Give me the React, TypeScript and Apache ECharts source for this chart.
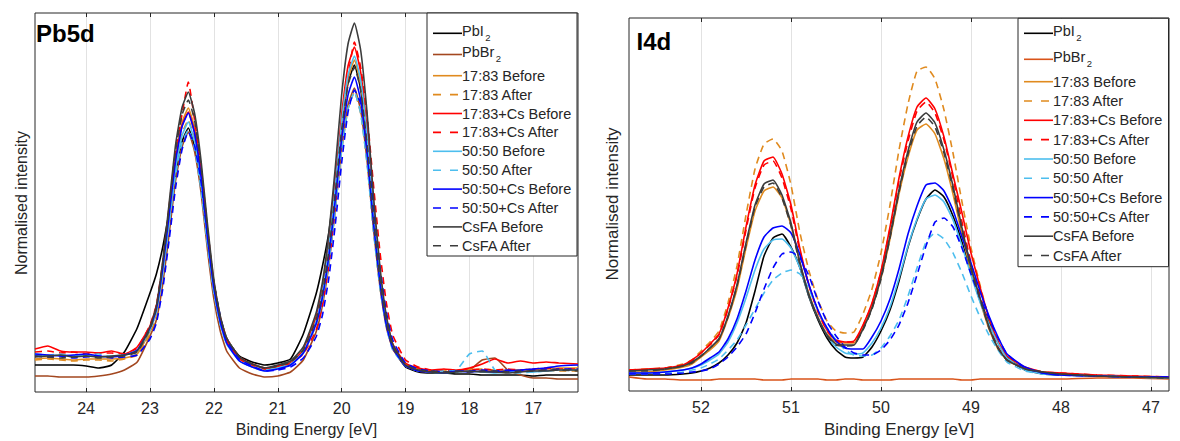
import React, { useEffect, useRef } from "react";
import * as echarts from "echarts";

// ---------- Pb5d panel ----------
const pbEnergy = [24.8, 24.6, 24.4, 24.2, 24.0, 23.8, 23.6, 23.4, 23.2, 23.0, 22.9, 22.8, 22.7, 22.6, 22.5, 22.4, 22.3, 22.2, 22.1, 22.0, 21.9, 21.8, 21.6, 21.4, 21.2, 21.0, 20.8, 20.6, 20.4, 20.3, 20.2, 20.1, 20.0, 19.9, 19.8, 19.7, 19.6, 19.5, 19.4, 19.3, 19.2, 19.0, 18.8, 18.6, 18.4, 18.2, 18.0, 17.8, 17.6, 17.4, 17.2, 17.0, 16.8, 16.6, 16.3];
const pbTicks = [24, 23, 22, 21, 20, 19, 18, 17];

const pbPbI2 = [27, 27, 27, 27, 26, 24, 27, 40, 64, 99, 118, 145, 180, 218, 250, 264, 245, 205, 150, 102, 71, 52, 36, 30, 27, 29, 33, 58, 98, 126, 160, 210, 265, 309, 327, 302, 247, 173, 111, 68, 44, 25, 20, 19, 19, 18, 18, 17, 17, 17, 17, 16, 17, 17, 17];
const pbPbBr2 = [16, 16, 15, 15, 15, 16, 18, 22, 30, 56, 72, 108, 158, 211, 245, 260, 240, 199, 142, 93, 61, 41, 24, 18, 15, 16, 20, 32, 60, 87, 127, 182, 243, 287, 304, 281, 230, 162, 105, 65, 43, 26, 21, 20, 20, 21, 22, 32, 34, 22, 17, 14, 14, 13, 13];
const pb1783Before = [33, 34, 33, 32, 33, 33, 33, 34, 38, 61, 81, 123, 179, 234, 269, 284, 263, 219, 158, 106, 72, 51, 33, 26, 23, 25, 28, 41, 72, 100, 143, 202, 267, 313, 332, 307, 251, 177, 114, 71, 46, 27, 22, 21, 20, 21, 23, 22, 21, 22, 22, 22, 23, 24, 24];
const pb1783After = [32, 33, 32, 31, 32, 32, 31, 33, 37, 58, 78, 118, 171, 224, 258, 272, 252, 210, 152, 102, 70, 50, 32, 26, 22, 24, 28, 39, 67, 92, 130, 183, 242, 283, 300, 278, 228, 161, 105, 67, 44, 28, 23, 21, 22, 21, 22, 23, 22, 21, 22, 23, 22, 21, 21];
const pb1783CsBefore = [43, 46, 41, 40, 40, 39, 41, 38, 45, 66, 86, 126, 179, 232, 266, 280, 259, 216, 157, 105, 72, 51, 33, 27, 23, 26, 29, 42, 75, 104, 149, 210, 277, 326, 345, 319, 261, 184, 119, 74, 48, 29, 24, 22, 23, 22, 24, 28, 33, 29, 31, 29, 30, 29, 28];
const pb1783CsAfter = [40, 41, 39, 40, 38, 39, 39, 38, 44, 67, 87, 130, 186, 241, 277, 310, 271, 225, 163, 110, 75, 54, 35, 28, 24, 26, 29, 38, 62, 87, 128, 188, 258, 315, 350, 324, 276, 206, 140, 89, 57, 32, 25, 22, 21, 22, 22, 23, 22, 23, 22, 23, 24, 23, 23];
const pb5050Before = [37, 36, 37, 36, 37, 35, 36, 37, 41, 62, 81, 120, 172, 223, 256, 270, 250, 208, 151, 101, 68, 48, 31, 25, 21, 24, 27, 40, 71, 100, 144, 204, 270, 317, 336, 311, 254, 178, 115, 71, 45, 26, 22, 20, 19, 20, 21, 20, 19, 20, 21, 20, 21, 22, 22];
const pb5050After = [38, 37, 38, 36, 37, 38, 35, 37, 42, 62, 80, 118, 168, 217, 249, 262, 243, 202, 147, 99, 68, 48, 32, 26, 22, 24, 28, 39, 67, 92, 130, 183, 242, 283, 300, 278, 227, 160, 104, 65, 42, 26, 21, 20, 21, 22, 38, 41, 22, 20, 19, 20, 21, 22, 22];
const pb5050CsBefore = [38, 37, 36, 37, 38, 36, 35, 37, 42, 64, 83, 124, 177, 231, 265, 279, 258, 215, 155, 104, 70, 49, 31, 25, 21, 23, 27, 39, 68, 95, 136, 192, 253, 297, 315, 291, 238, 168, 109, 67, 44, 26, 21, 20, 19, 21, 20, 21, 20, 21, 22, 23, 24, 26, 27];
const pb5050CsAfter = [36, 35, 36, 34, 35, 36, 34, 35, 37, 53, 69, 103, 152, 204, 242, 260, 246, 210, 157, 109, 76, 52, 33, 26, 21, 22, 25, 34, 55, 77, 114, 167, 229, 280, 302, 288, 246, 184, 125, 80, 52, 29, 23, 21, 20, 21, 21, 22, 21, 22, 21, 22, 22, 23, 23];
const pbCsFABefore = [35, 36, 37, 35, 36, 35, 36, 37, 41, 65, 86, 131, 189, 247, 284, 300, 278, 231, 168, 112, 76, 54, 35, 28, 24, 27, 31, 45, 79, 110, 159, 224, 297, 348, 369, 341, 278, 195, 125, 76, 48, 27, 22, 20, 19, 20, 21, 20, 20, 19, 20, 21, 21, 22, 22];
const pbCsFAAfter = [36, 35, 34, 35, 36, 34, 35, 36, 40, 63, 84, 128, 184, 241, 277, 292, 271, 225, 163, 110, 75, 54, 35, 28, 24, 26, 30, 42, 72, 99, 141, 199, 262, 307, 325, 301, 246, 173, 112, 70, 45, 27, 22, 21, 20, 21, 20, 21, 21, 20, 21, 21, 22, 22, 21];

// ---------- I4d panel ----------
const iEnergy = [52.8, 52.6, 52.4, 52.2, 52.1, 52.0, 51.9, 51.8, 51.7, 51.6, 51.5, 51.4, 51.3, 51.2, 51.1, 51.0, 50.9, 50.8, 50.7, 50.6, 50.5, 50.4, 50.3, 50.2, 50.1, 50.0, 49.9, 49.8, 49.7, 49.6, 49.5, 49.4, 49.3, 49.2, 49.1, 49.0, 48.9, 48.8, 48.7, 48.6, 48.4, 48.2, 48.0, 47.6, 47.2, 46.8];
const iTicks = [52, 51, 50, 49, 48, 47];

const iPbI2 = [16, 16, 16, 17, 18, 20, 23, 28, 36, 48, 68, 100, 135, 153, 157, 144, 123, 94, 71, 53, 41, 34, 33, 34, 44, 60, 81, 110, 144, 171, 192, 201, 194, 175, 149, 119, 91, 69, 48, 34, 21, 17, 16, 15, 14, 13];
const iPbBr2 = [14, 12, 12, 11, 11, 11, 11, 12, 12, 12, 12, 12, 11, 11, 11, 12, 12, 12, 12, 11, 11, 12, 12, 11, 11, 11, 11, 12, 12, 12, 12, 12, 12, 12, 11, 11, 12, 12, 12, 12, 12, 12, 12, 13, 13, 12];
const i1783Before = [19, 19, 21, 24, 27, 34, 41, 50, 73, 102, 143, 180, 200, 204, 193, 166, 128, 97, 74, 57, 49, 48, 48, 63, 84, 113, 152, 197, 234, 261, 267, 257, 232, 197, 157, 120, 90, 62, 42, 31, 22, 19, 17, 15, 14, 13];
const i1783After = [21, 22, 23, 27, 31, 40, 49, 60, 88, 125, 176, 222, 247, 252, 240, 206, 158, 120, 91, 70, 60, 58, 59, 77, 102, 138, 186, 241, 287, 320, 324, 312, 281, 238, 189, 143, 106, 72, 48, 34, 23, 19, 17, 15, 14, 13];
const i1783CsBefore = [21, 22, 23, 26, 31, 38, 47, 57, 83, 117, 164, 206, 230, 234, 217, 186, 142, 106, 80, 61, 51, 49, 50, 66, 88, 120, 164, 213, 254, 284, 293, 282, 254, 216, 178, 138, 104, 73, 50, 35, 24, 19, 18, 16, 15, 14];
const i1783CsAfter = [21, 21, 23, 26, 30, 38, 46, 56, 82, 115, 161, 203, 226, 230, 213, 182, 139, 105, 79, 60, 50, 49, 49, 65, 87, 119, 162, 210, 250, 280, 289, 278, 251, 213, 169, 128, 96, 66, 44, 32, 22, 19, 18, 16, 15, 14];
const i5050Before = [18, 18, 19, 21, 23, 26, 31, 37, 49, 68, 93, 121, 142, 151, 152, 143, 123, 95, 73, 56, 44, 38, 37, 38, 48, 63, 84, 113, 145, 172, 192, 196, 189, 171, 145, 116, 89, 67, 48, 33, 21, 17, 16, 15, 14, 13];
const i5050After = [17, 17, 18, 19, 21, 23, 27, 32, 41, 51, 66, 82, 98, 111, 118, 121, 117, 102, 80, 63, 51, 41, 36, 35, 36, 43, 55, 71, 95, 123, 149, 158, 152, 138, 118, 95, 74, 56, 41, 29, 20, 17, 16, 15, 14, 13];
const i5050CsBefore = [18, 18, 19, 21, 23, 27, 33, 39, 52, 72, 100, 131, 154, 163, 165, 158, 136, 106, 81, 63, 50, 43, 42, 42, 54, 70, 92, 122, 157, 185, 206, 208, 200, 181, 154, 128, 100, 75, 54, 37, 24, 18, 16, 15, 14, 14];
const i5050CsAfter = [17, 17, 17, 18, 19, 20, 22, 27, 34, 44, 57, 78, 102, 123, 137, 139, 133, 115, 90, 69, 55, 44, 38, 36, 36, 41, 51, 66, 88, 116, 145, 169, 173, 164, 143, 117, 93, 73, 53, 37, 23, 18, 16, 15, 14, 14];
const iCsFABefore = [20, 21, 22, 25, 29, 35, 43, 52, 75, 106, 148, 186, 207, 211, 196, 168, 128, 96, 73, 56, 47, 46, 46, 62, 83, 114, 155, 201, 240, 269, 278, 268, 241, 205, 163, 124, 93, 64, 43, 31, 22, 19, 17, 15, 14, 13];
const iCsFAAfter = [20, 20, 22, 25, 28, 35, 43, 52, 74, 105, 146, 184, 204, 208, 193, 165, 126, 95, 72, 55, 46, 45, 46, 61, 82, 112, 153, 199, 237, 265, 274, 264, 238, 202, 161, 122, 92, 63, 43, 31, 22, 19, 17, 15, 14, 13];

// ---------- series descriptors ----------
const seriesNames = ["PbI2", "PbBr2", "17:83 Before", "17:83 After", "17:83+Cs Before", "17:83+Cs After", "50:50 Before", "50:50 After", "50:50+Cs Before", "50:50+Cs After", "CsFA Before", "CsFA After"];
const legendMain = ["PbI", "PbBr", "17:83 Before", "17:83 After", "17:83+Cs Before", "17:83+Cs After", "50:50 Before", "50:50 After", "50:50+Cs Before", "50:50+Cs After", "CsFA Before", "CsFA After"];
const legendSub = ["2", "2", "", "", "", "", "", "", "", "", "", ""];
const dashedFlags = [false, false, false, true, false, true, false, true, false, true, false, true];
const pbColors = ["#000000", "#A3471F", "#E08A1E", "#E08A1E", "#FF0000", "#FF0000", "#4DBEEE", "#4DBEEE", "#0000FF", "#0000FF", "#3C3C3C", "#3C3C3C"];
const iColors = ["#000000", "#D95319", "#E08A1E", "#E08A1E", "#FF0000", "#FF0000", "#4DBEEE", "#4DBEEE", "#0000FF", "#0000FF", "#3C3C3C", "#3C3C3C"];

const pbValues = [pbPbI2, pbPbBr2, pb1783Before, pb1783After, pb1783CsBefore, pb1783CsAfter, pb5050Before, pb5050After, pb5050CsBefore, pb5050CsAfter, pbCsFABefore, pbCsFAAfter];
const iValues = [iPbI2, iPbBr2, i1783Before, i1783After, i1783CsBefore, i1783CsAfter, i5050Before, i5050After, i5050CsBefore, i5050CsAfter, iCsFABefore, iCsFAAfter];

const FONT = '"Liberation Sans", Arial, Helvetica, sans-serif';
const INK = "#262626";

const panels = [
  {
    energy: pbEnergy, values: pbValues, colors: pbColors, ticks: pbTicks,
    xMin: 16.3, xMax: 24.8, yMax: 379,
    grid: { left: 35, top: 13, width: 543, height: 379 },
    title: "Pb5d", titleX: 36, titleY: 33.5,
    yName: { x: 21, y: 203, size: 16 }, xName: { x: 306.5, y: 429, size: 16 },
    legendBox: { x: 427, y: 13, w: 150, h: 243 },
    legendRows: [33.3, 54.5, 75.7, 94.6, 113.5, 132.4, 151.3, 170.2, 189.1, 208.0, 226.9, 245.8],
  },
  {
    energy: iEnergy, values: iValues, colors: iColors, ticks: iTicks,
    xMin: 46.8, xMax: 52.8, yMax: 373,
    grid: { left: 629, top: 18, width: 540, height: 373 },
    title: "I4d", titleX: 636.5, titleY: 41.3,
    yName: { x: 612.6, y: 204, size: 17 }, xName: { x: 899, y: 429.4, size: 17 },
    legendBox: { x: 1018, y: 18.3, w: 150.5, h: 248.4 },
    legendRows: [33.3, 59.3, 81.7, 101.0, 120.3, 139.6, 159.0, 178.3, 197.6, 216.9, 236.2, 255.5],
  },
];

const subOffsets = [23.3, 33.7];

function legendElements(p: any) {
  const b = p.legendBox;
  const els: any[] = [];
  els.push({
    type: "rect", z: 100,
    shape: { x: b.x, y: b.y, width: b.w, height: b.h },
    style: { fill: "#ffffff", stroke: INK, lineWidth: 1 },
  });
  seriesNames.forEach((_, k) => {
    const y = p.legendRows[k];
    const lineStyle: any = { stroke: p.colors[k], lineWidth: 1.6 };
    if (dashedFlags[k]) lineStyle.lineDash = [8, 9];
    els.push({ type: "line", z: 101, shape: { x1: b.x + 6, y1: y, x2: b.x + 35, y2: y }, style: lineStyle });
    const hasSub = legendSub[k] !== "";
    els.push({
      type: "text", z: 101, x: b.x + 35, y: hasSub ? y - 2.5 : y,
      style: { text: legendMain[k], fontSize: 14.5, fontFamily: FONT, fill: INK, align: "left", verticalAlign: "middle" },
    });
    if (hasSub) {
      els.push({
        type: "text", z: 101, x: b.x + 35 + subOffsets[k], y: y + 4,
        style: { text: legendSub[k], fontSize: 9.5, fontFamily: FONT, fill: INK, align: "left", verticalAlign: "middle" },
      });
    }
  });
  return els;
}

function buildOption() {
  const grid: any[] = [];
  const xAxis: any[] = [];
  const yAxis: any[] = [];
  const series: any[] = [];
  const graphic: any[] = [];

  panels.forEach((p, pi) => {
    grid.push({ ...p.grid, show: true, borderColor: INK, borderWidth: 1, backgroundColor: "transparent" });
    xAxis.push({
      type: "value", gridIndex: pi, min: p.xMin, max: p.xMax, inverse: true, position: "bottom",
      axisLine: { show: false },
      axisTick: { show: true, inside: true, length: 4, lineStyle: { color: INK }, customValues: p.ticks },
      axisLabel: { show: true, customValues: p.ticks, color: INK, fontSize: 16, fontFamily: FONT, margin: 8 },
      splitLine: { show: true, lineStyle: { color: "#e2e2e2", width: 1 } },
    });
    xAxis.push({
      type: "value", gridIndex: pi, min: p.xMin, max: p.xMax, inverse: true, position: "top",
      axisLine: { show: false },
      axisTick: { show: true, inside: true, length: 4, lineStyle: { color: INK }, customValues: p.ticks },
      axisLabel: { show: false },
      splitLine: { show: false },
    });
    yAxis.push({ type: "value", gridIndex: pi, min: 0, max: p.yMax, show: false });

    p.values.forEach((vals: number[], k: number) => {
      series.push({
        type: "line", name: seriesNames[k], xAxisIndex: pi * 2, yAxisIndex: pi,
        data: p.energy.map((e: number, i: number) => [e, vals[i]]),
        symbol: "none", showSymbol: false, smooth: 0.15, clip: true,
        lineStyle: { color: p.colors[k], width: 1.6, type: dashedFlags[k] ? [7, 5] : "solid" },
        emphasis: { disabled: true }, silent: true, z: 2 + k * 0.01,
      });
    });

    graphic.push({
      type: "text", z: 100, x: p.titleX, y: p.titleY,
      style: { text: p.title, fontSize: 24, fontWeight: "bold", fontFamily: FONT, fill: "#000", align: "left", verticalAlign: "middle" },
    });
    graphic.push({
      type: "text", z: 100, x: p.yName.x, y: p.yName.y, rotation: Math.PI / 2,
      style: { text: "Normalised intensity", fontSize: p.yName.size, fontFamily: FONT, fill: INK, align: "center", verticalAlign: "middle" },
    });
    graphic.push({
      type: "text", z: 100, x: p.xName.x, y: p.xName.y,
      style: { text: "Binding Energy [eV]", fontSize: p.xName.size, fontFamily: FONT, fill: INK, align: "center", verticalAlign: "middle" },
    });
    legendElements(p).forEach((e) => graphic.push(e));
  });

  return {
    animation: false,
    backgroundColor: "#ffffff",
    grid, xAxis, yAxis, series, graphic,
  };
}

export default function App() {
  const ref = useRef<HTMLDivElement>(null);
  useEffect(() => {
    if (!ref.current) return;
    const chart = echarts.init(ref.current, null, { renderer: "svg" });
    chart.setOption(buildOption() as any);
    return () => chart.dispose();
  }, []);
  return (
    <div
      ref={ref}
      style={{ position: "fixed", left: 0, top: 0, width: 1180, height: 441, background: "#ffffff" }}
    />
  );
}
